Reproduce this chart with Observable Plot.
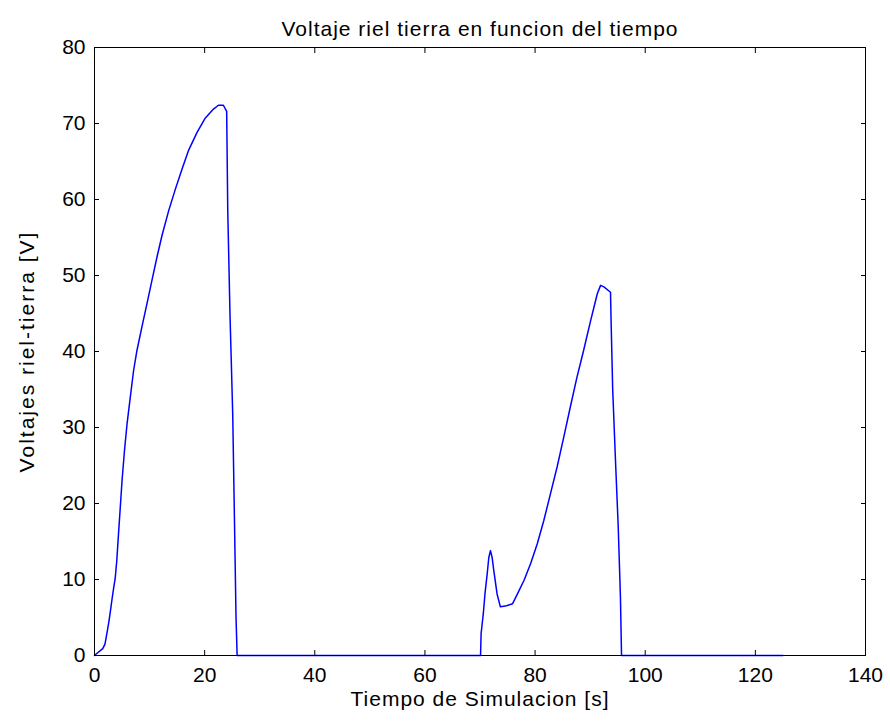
<!DOCTYPE html>
<html>
<head>
<meta charset="utf-8">
<script src="https://cdn.jsdelivr.net/npm/d3@7"></script>
<script src="https://cdn.jsdelivr.net/npm/@observablehq/plot@0.6"></script>
<style>
  html, body { margin: 0; padding: 0; background: #fff; }
  svg { display: block; }
</style>
</head>
<body>
<div id="chart"></div>
<script>
const title = "Voltaje riel tierra en funcion del tiempo";
const xLabel = "Tiempo de Simulacion [s]";
const yLabel = "Voltajes riel-tierra [V]";
const xTicks = [0, 20, 40, 60, 80, 100, 120, 140];
const yTicks = [0, 10, 20, 30, 40, 50, 60, 70, 80];

const time = [0, 0.3, 1.5, 1.9, 2.3, 2.6, 2.9, 3.2, 3.5, 3.75, 4.05, 4.36, 4.7, 5.0, 5.45, 5.9, 6.5, 7.1, 7.7, 8.6, 9.5, 10.5, 11.4, 12.3, 13.5, 14.7, 15.9, 17.1, 18.6, 20.1, 21.6, 22.5, 23.4, 24.0, 24.2, 24.6, 25.1, 25.4, 25.7, 25.9,
  70.1, 70.2, 70.6, 70.9, 71.3, 71.6, 71.9, 72.2, 72.5, 73.1, 73.7, 74.6, 75.9, 76.8, 78.0, 79.2, 80.4, 81.6, 82.8, 84.0, 85.2, 86.4, 87.6, 88.8, 90.1, 91.3, 91.9, 92.5, 93.7, 93.8, 94.1, 94.6, 95.1, 95.5, 95.7, 125];
const volt = [0, 0.2, 0.9, 1.5, 3.1, 4.4, 5.9, 7.5, 9.0, 10.1, 12.5, 16.0, 19.7, 23.0, 27, 30.4, 34, 37.5, 40.1, 43.2, 46.2, 49.6, 52.6, 55.4, 58.6, 61.4, 64, 66.5, 68.8, 70.7, 71.9, 72.4, 72.4, 71.6, 58.4, 45, 31.7, 18.5, 5, 0,
  0, 2.9, 5.5, 8.1, 10.7, 12.9, 13.8, 12.9, 11.2, 8.1, 6.4, 6.5, 6.8, 8.1, 9.9, 12.1, 14.7, 17.8, 21.3, 24.8, 28.7, 32.7, 36.6, 40.1, 44.1, 47.6, 48.7, 48.5, 47.8, 44.1, 34.9, 25.7, 16.9, 7.7, 0, 0];

const data = time.map((t, i) => ({t, v: volt[i]}));

const font = "'Liberation Sans', Arial, Helvetica, sans-serif";

const chart = Plot.plot({
  width: 890,
  height: 721,
  marginLeft: 94,
  marginRight: 25,
  marginTop: 47,
  marginBottom: 66,
  style: {fontFamily: font, fontSize: "21px", color: "#000", background: "#fff"},
  x: {domain: [0, 140], ticks: xTicks},
  y: {domain: [0, 80], ticks: yTicks},
  marks: [
    Plot.line(data, {x: "t", y: "v", stroke: "#0000ff", strokeWidth: 1.5}),
    Plot.frame({stroke: "#000", strokeWidth: 1}),
    Plot.axisX(xTicks, {anchor: "bottom", tickSize: -5, tickPadding: 17, label: null, stroke: "#000", fill: "#000", fontSize: 21}),
    Plot.axisX(xTicks, {anchor: "top", tickSize: -5, tickFormat: () => "", label: null, stroke: "#000"}),
    Plot.axisY(yTicks, {anchor: "left", tickSize: -5, tickPadding: 14, label: null, stroke: "#000", fill: "#000", fontSize: 21}),
    Plot.axisY(yTicks, {anchor: "right", tickSize: -5, tickFormat: () => "", label: null, stroke: "#000"}),
    Plot.text([title], {frameAnchor: "top", textAnchor: "middle", dy: -26, fontSize: 21, fill: "#000"}),
    Plot.text([xLabel], {frameAnchor: "bottom", textAnchor: "middle", dy: 50, fontSize: 21, fill: "#000"}),
    Plot.text([yLabel], {frameAnchor: "left", textAnchor: "middle", dx: -67, rotate: -90, fontSize: 21, fill: "#000"})
  ]
});
chart.querySelectorAll("text").forEach(t => {
  const s = t.textContent;
  if (s === title || s === xLabel) t.setAttribute("letter-spacing", "1");
  if (s === yLabel) t.setAttribute("letter-spacing", "2");
});
document.getElementById("chart").appendChild(chart);
</script>
</body>
</html>
